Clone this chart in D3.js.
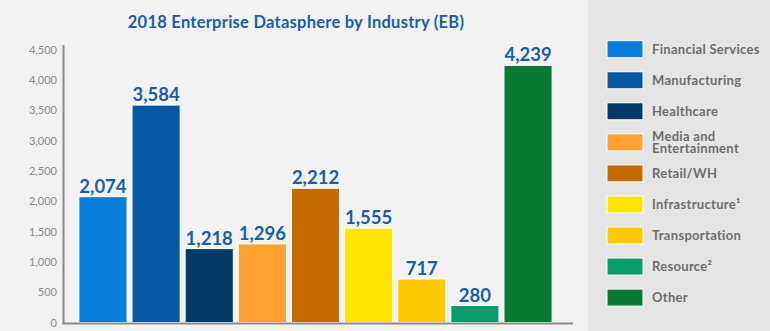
<!DOCTYPE html>
<html>
<head>
<meta charset="utf-8">
<script src="https://d3js.org/d3.v7.min.js"></script>
<style>
    html, body { margin: 0; padding: 0; background: #f2f2f2; }
    svg { display: block; }
</style>
</head>
<body>
<script>
    var industries = ["Financial Services", "Manufacturing", "Healthcare", "Media and Entertainment",
            "Retail/WH", "Infrastructure\u00b9", "Transportation", "Resource\u00b2", "Other"],
        // legend lines (media wraps on two lines)
        legendLines = [["Financial Services"], ["Manufacturing"], ["Healthcare"], ["Media and", "Entertainment"],
            ["Retail/WH"], ["Infrastructure\u00b9"], ["Transportation"], ["Resource\u00b2"], ["Other"]],
        values = [2074, 3584, 1218, 1296, 2212, 1555, 717, 280, 4239],
        colors = ["#0a7dd8", "#0857a2", "#033966", "#ffa232", "#c46b00", "#ffe500", "#ffc900", "#079c6c", "#087a33"],
        yTicks = [0, 500, 1000, 1500, 2000, 2500, 3000, 3500, 4000, 4500];

    var width = 770,
        height = 331,
        fontFam = "Lato, 'Open Sans', sans-serif",
        labelBlue = "#1a5ea6";

    var svg = d3.select("body").append("svg")
        .attr("width", width)
        .attr("height", height);

    // legend panel
    svg.append("rect")
        .attr("x", 588).attr("y", 0)
        .attr("width", width - 588).attr("height", height)
        .attr("fill", "#e5e5e5");

    svg.append("text")
        .attr("x", 296).attr("y", 28)
        .attr("text-anchor", "middle")
        .attr("font-family", fontFam)
        .attr("font-weight", "bold")
        .attr("font-size", 16.5)
        .attr("letter-spacing", 0.25)
        .attr("fill", labelBlue)
        .text("2018 Enterprise Datasphere by Industry (EB)");

    var x = d3.scaleBand()
        .domain(industries)
        .range([76.4, 554.6])
        .paddingInner(0.094)
        .paddingOuter(0.047);

    var y = d3.scaleLinear()
        .domain([0, 4500])
        .range([322.5, 49.5]);

    // y axis labels
    var yAxis = d3.axisLeft(y)
        .tickValues(yTicks)
        .tickSize(0)
        .tickPadding(6)
        .tickFormat(d3.format(","));

    var gy = svg.append("g")
        .attr("transform", "translate(63,0)")
        .call(yAxis);
    gy.select(".domain").remove();
    gy.selectAll("text")
        .attr("font-family", fontFam)
        .attr("font-size", 11)
        .attr("fill", "#8a8a8a");

    // bars
    svg.append("g").selectAll("rect")
        .data(values)
        .enter()
        .append("rect")
        .attr("x", function (d, i) { return x(industries[i]); })
        .attr("y", function (d) { return y(d); })
        .attr("width", x.bandwidth())
        .attr("height", function (d) { return y(0) - y(d); })
        .attr("fill", function (d, i) { return colors[i]; })
        .attr("stroke", "#ffffff")
        .attr("stroke-width", 1);

    // value labels
    svg.append("g").selectAll("text")
        .data(values)
        .enter()
        .append("text")
        .attr("x", function (d, i) { return x(industries[i]) + x.bandwidth() / 2; })
        .attr("y", function (d) { return y(d) - 4; })
        .attr("text-anchor", "middle")
        .attr("font-family", fontFam)
        .attr("font-weight", "bold")
        .attr("font-size", 18.5)
        .attr("fill", labelBlue)
        .text(d3.format(","));

    // axis lines
    svg.append("line")
        .attr("x1", 63.5).attr("x2", 63.5)
        .attr("y1", 45).attr("y2", 324)
        .attr("stroke", "#8c8c8c").attr("stroke-width", 2);
    svg.append("line")
        .attr("x1", 62.5).attr("x2", 573)
        .attr("y1", 323.5).attr("y2", 323.5)
        .attr("stroke", "#8c8c8c").attr("stroke-width", 2);

    // legend
    var legend = svg.append("g").selectAll("g")
        .data(industries)
        .enter()
        .append("g")
        .attr("transform", function (d, i) { return "translate(607," + (40.7 + i * 31.05) + ")"; });

    legend.append("rect")
        .attr("width", 36).attr("height", 17)
        .attr("fill", function (d, i) { return colors[i]; })
        .attr("stroke", "#ffffff")
        .attr("stroke-width", 1);

    legend.each(function (d, i) {
        var lines = legendLines[i],
            t = d3.select(this).append("text")
                .attr("font-family", fontFam)
                .attr("font-weight", "bold")
                .attr("font-size", 13)
                .attr("letter-spacing", 0.3)
                .attr("fill", "#6e6e6e");
        lines.forEach(function (line, j) {
            t.append("tspan")
                .attr("x", 45)
                .attr("y", 13.3 + (j - (lines.length - 1) / 2) * 12.6)
                .text(line);
        });
    });
</script>
</body>
</html>
